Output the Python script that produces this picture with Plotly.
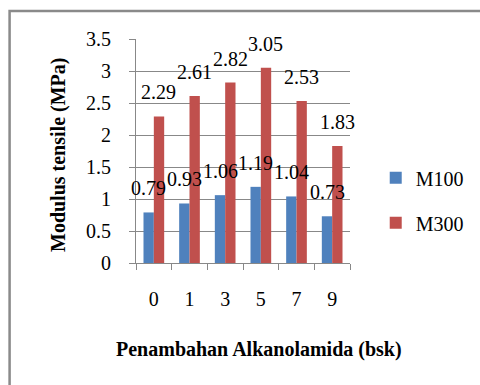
import plotly.graph_objects as go

categories = ["0", "1", "3", "5", "7", "9"]
m100 = [0.79, 0.93, 1.06, 1.19, 1.04, 0.73]
m300 = [2.29, 2.61, 2.82, 3.05, 2.53, 1.83]
series_names = ["M100", "M300"]
colors = ["#4F81BD", "#C0504D"]
y_ticks = [0, 0.5, 1, 1.5, 2, 2.5, 3, 3.5]
y_tick_labels = ["0", "0.5", "1", "1.5", "2", "2.5", "3", "3.5"]
x_title = "Penambahan Alkanolamida (bsk)"
y_title = "Modulus tensile (MPa)"

FONT = "Liberation Serif"
GRID = "#888888"

fig = go.Figure()
for i, (name, vals) in enumerate(zip(series_names, [m100, m300])):
    fig.add_trace(go.Bar(
        x=categories, y=vals, name=name,
        marker=dict(color=colors[i], line=dict(width=0)),
        legendgroup=name,
    ))

annotations = []
for i, vals in enumerate([m100, m300]):
    shift = -5 if i == 0 else 5
    for idx, v in enumerate(vals):
        annotations.append(dict(
            x=idx, y=v, xref="x", yref="y", text=f"{v:g}",
            showarrow=False, xshift=shift, yshift=11, yanchor="bottom", xanchor="center",
            font=dict(family=FONT, size=20, color="#000000"),
        ))

annotations.append(dict(
    x=0.577, y=0, xref="paper", yref="paper", yshift=-86, text=x_title,
    showarrow=False, xanchor="center", yanchor="middle",
    font=dict(family=FONT, size=20, color="#000000", weight="bold"),
))
annotations.append(dict(
    x=0, y=0.5, xref="paper", yref="paper", xshift=-78, yshift=-4, text=y_title,
    showarrow=False, xanchor="center", yanchor="middle", textangle=-90,
    font=dict(family=FONT, size=20, color="#000000", weight="bold"),
))

fig.update_layout(
    width=480, height=385,
    margin=dict(l=136, r=129, t=39, b=122),
    paper_bgcolor="white", plot_bgcolor="white",
    barmode="group", bargap=0.42, bargroupgap=0,
    font=dict(family=FONT, size=20, color="#000000"),
    showlegend=True,
    legend=dict(
        x=1.115, y=0.28, xanchor="left", yanchor="middle",
        font=dict(family=FONT, size=20, color="#000000"),
        traceorder="grouped", tracegroupgap=16,
        bgcolor="rgba(0,0,0,0)",
    ),
    xaxis=dict(
        type="category", range=[-0.5, len(categories) - 0.5],
        showline=True, linecolor=GRID, linewidth=1,
        ticks="outside", tickson="boundaries", ticklen=6, tickcolor=GRID,
        showgrid=False, ticklabelstandoff=18,
        tickfont=dict(family=FONT, size=20, color="#000000"),
    ),
    yaxis=dict(
        range=[0, 3.5], tickvals=y_ticks, ticktext=y_tick_labels,
        showline=True, linecolor=GRID, linewidth=1,
        ticks="outside", ticklen=6, tickcolor=GRID,
        showgrid=True, gridcolor=GRID, gridwidth=1, zeroline=False,
        ticklabelstandoff=14,
        tickfont=dict(family=FONT, size=20, color="#000000"),
    ),
    annotations=annotations,
    shapes=[dict(
        type="rect", xref="paper", yref="paper",
        x0=-0.5907, x1=2.0, y0=-1.0, y1=1.125,
        line=dict(color="#8a8a8a", width=2.5), fillcolor="rgba(0,0,0,0)",
        layer="below",
    )],
)

fig.write_html(
    "out.html",
    config={"displayModeBar": False},
    post_script="document.body.style.margin='0';",
)
